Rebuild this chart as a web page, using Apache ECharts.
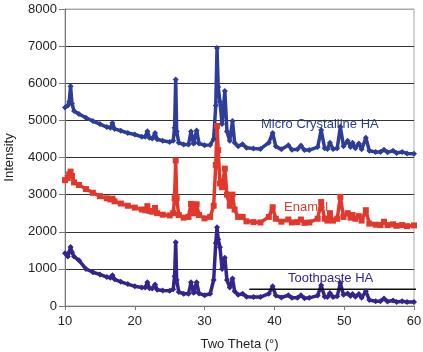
<!DOCTYPE html>
<html>
<head>
<meta charset="utf-8">
<script src="https://cdn.jsdelivr.net/npm/echarts@6/dist/echarts.min.js"></script>
<style>
html,body{margin:0;padding:0;background:#fff;}
#chart{width:423px;height:352px;}
</style>
</head>
<body>
<div id="chart"></div>
<script>
// two theta positions (deg), shared by the three patterns
var twoTheta = [10, 10.4, 10.6, 10.8, 11.0, 11.3, 12, 13, 14, 15, 16, 16.5, 16.8, 17.1, 18, 19, 20, 21, 21.5, 21.8,
    22.1, 22.5, 22.9, 23.2, 24, 25, 25.5, 25.7, 25.86, 26.0, 26.3, 27, 27.7, 28.05, 28.4, 28.6, 28.86, 29.2, 30, 30.8,
    31.3, 31.6, 31.78, 31.95, 32.2, 32.5, 32.9, 33.2, 33.6, 34.0, 34.3, 34.8, 35.45, 36, 37, 38, 39.2, 39.75, 40.2, 41,
    42, 42.5, 43.3, 43.8, 44.3, 45, 46.2, 46.7, 47.2, 47.6, 47.96, 48.4, 49.0, 49.45, 49.9, 50.5, 50.9, 51.2, 51.6, 52.1,
    52.5, 53.1, 53.6, 54.5, 55.2, 55.7, 56.2, 57.0, 57.5, 58.3, 59, 60];

var microHA = [5350, 5400, 5500, 5920, 5450, 5250, 5170, 5070, 4980, 4900, 4820, 4800, 4930, 4770, 4720, 4660, 4620, 4560, 4560, 4710,
    4530, 4510, 4660, 4490, 4450, 4420, 4450, 4800, 6100, 4700, 4400, 4350, 4350, 4700, 4380, 4400, 4730, 4380, 4330, 4340,
    4500, 5400, 6950, 5900, 5500, 4900, 5790, 4700, 4450, 4980, 4400, 4300, 4360, 4260, 4240, 4230, 4400, 4660, 4300, 4220,
    4330, 4210, 4220, 4320, 4200, 4200, 4280, 4740, 4250, 4230, 4400, 4230, 4250, 4830, 4300, 4450, 4280, 4400, 4250, 4380,
    4220, 4530, 4180, 4150, 4150, 4210, 4140, 4180, 4120, 4150, 4110, 4100];

var enamel = [3390, 3450, 3550, 3620, 3500, 3330, 3260, 3150, 3050, 2960, 2900, 2870, 2890, 2820, 2760, 2700, 2650, 2600, 2580, 2690,
    2560, 2540, 2640, 2500, 2460, 2440, 2500, 2900, 3920, 2900, 2450, 2380, 2400, 2750, 2500, 2500, 2740, 2450, 2360, 2400,
    2700, 3800, 4850, 4200, 3300, 3200, 3700, 3000, 2700, 3000, 2600, 2400, 2400, 2280, 2260, 2250, 2400, 2660, 2350, 2270,
    2330, 2250, 2260, 2330, 2240, 2250, 2350, 2800, 2350, 2300, 2500, 2300, 2350, 2940, 2400, 2500, 2380, 2450, 2350, 2420,
    2300, 2580, 2220, 2190, 2180, 2270, 2180, 2200, 2160, 2180, 2150, 2170];

var toothpasteHA = [1420, 1330, 1450, 1590, 1450, 1330, 1230, 1000, 910, 850, 780, 760, 830, 720, 650, 590, 530, 500, 500, 640,
    480, 470, 580, 440, 420, 410, 450, 800, 1720, 700, 380, 330, 330, 640, 360, 380, 640, 340, 290, 330,
    700, 1700, 2120, 1800, 1580, 1000, 1300, 700, 500, 740, 400, 300, 330, 250, 240, 240, 330, 530, 280, 230,
    290, 220, 220, 290, 210, 220, 280, 560, 250, 240, 350, 240, 260, 620, 300, 340, 270, 320, 250, 320,
    220, 400, 160, 130, 130, 200, 120, 150, 110, 130, 110, 110];

// horizontal black rule under the toothpaste label
var ruleX = [36.4, 60.5];
var ruleY = [450, 450];

function pairs(xs, ys) {
    var out = [];
    for (var i = 0; i < xs.length; i++) out.push([xs[i], ys[i]]);
    return out;
}

var font = 'Liberation Sans, Arial, sans-serif';
var blue = '#2e3d98', red = '#e2382c', indigo = '#35248c';

var gridColors = ['#777', '#333', '#333', '#333', '#333', '#333', '#333', '#333', '#aaa'];

var myChart = echarts.init(document.getElementById('chart'));
var option = {
    animation: false,
    backgroundColor: '#fff',
    grid: {left: 65, right: 9, top: 9, bottom: 46, show: true, borderColor: '#aaa', borderWidth: 1,
        outerBoundsMode: 'none', containLabel: false},
    xAxis: {
        type: 'value', min: 10, max: 60, interval: 10,
        name: 'Two Theta (°)', nameLocation: 'middle', nameGap: 32,
        nameTextStyle: {fontFamily: font, fontSize: 13, color: '#222'},
        axisLine: {show: true, lineStyle: {color: '#777'}},
        axisTick: {show: true, length: 4, lineStyle: {color: '#777'}},
        axisLabel: {fontFamily: font, fontSize: 13, color: '#222', margin: 9},
        splitLine: {show: false}
    },
    yAxis: {
        type: 'value', min: 0, max: 8000, interval: 1000,
        name: 'Intensity', nameLocation: 'middle', nameGap: 49,
        nameTextStyle: {fontFamily: font, fontSize: 13, color: '#222'},
        axisLine: {show: true, lineStyle: {color: '#777'}},
        axisTick: {show: true, length: 6, lineStyle: {color: '#777'}},
        axisLabel: {fontFamily: font, fontSize: 13, color: '#222', margin: 8,
            formatter: function (v) { return String(v); }},
        splitLine: {show: true, lineStyle: {color: gridColors, width: 1}}
    },
    graphic: [
        {type: 'text', z: 0, left: 261, top: 118, style: {text: 'Micro Crystalline HA', fill: blue, font: '13px ' + font}},
        {type: 'text', z: 0, left: 284, top: 201, style: {text: 'Enamel', fill: red, font: '13px ' + font}},
        {type: 'text', z: 0, left: 288, top: 272, style: {text: 'Toothpaste HA', fill: indigo, font: '13px ' + font}}
    ],
    series: [
        {
            name: 'Micro Crystalline HA', type: 'line', data: pairs(twoTheta, microHA),
            symbol: 'diamond', symbolSize: 6, color: blue,
            lineStyle: {width: 3.5, color: blue}, itemStyle: {color: blue}
        },
        {
            name: 'Enamel', type: 'line', data: pairs(twoTheta, enamel),
            symbol: 'rect', symbolSize: 6, color: red,
            lineStyle: {width: 3.5, color: red}, itemStyle: {color: red}
        },
        {
            name: 'Toothpaste HA', type: 'line', data: pairs(twoTheta, toothpasteHA),
            symbol: 'diamond', symbolSize: 6, color: indigo,
            lineStyle: {width: 3.5, color: indigo}, itemStyle: {color: indigo}
        },
        {
            name: 'rule', type: 'line', data: pairs(ruleX, ruleY), clip: false, silent: true,
            symbol: 'none', lineStyle: {width: 1.5, color: '#111'}, z: 3
        }
    ]
};
myChart.setOption(option);
window.onresize = myChart.resize;
</script>
</body>
</html>
